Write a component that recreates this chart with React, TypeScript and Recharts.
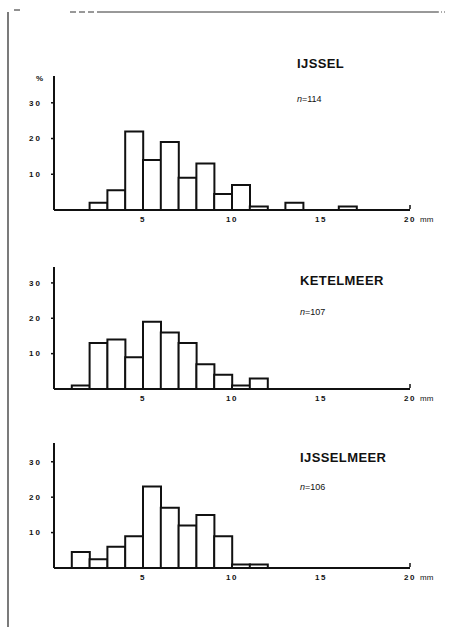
import React from 'react';
import { BarChart, Bar, XAxis, YAxis } from 'recharts';

// percentage of animals per 1 mm length class (0-1, 1-2, ... 19-20 mm)
const binStarts = [0, 1, 2, 3, 4, 5, 6, 7, 8, 9, 10, 11, 12, 13, 14, 15, 16, 17, 18, 19];
const ijsselPct = [0, 0, 2, 5.5, 22, 14, 19, 9, 13, 4.5, 7, 1, 0, 2, 0, 0, 1, 0, 0, 0];
const ketelmeerPct = [0, 1, 13, 14, 9, 19, 16, 13, 7, 4, 1, 3, 0, 0, 0, 0, 0, 0, 0, 0];
const ijsselmeerPct = [0, 4.5, 2.5, 6, 9, 23, 17, 12, 15, 9, 1, 1, 0, 0, 0, 0, 0, 0, 0, 0];

const lakeNames = ['IJSSEL', 'KETELMEER', 'IJSSELMEER'];
const sampleSizes = [114, 107, 106];
const xTicks = [5, 10, 15, 20];
const yTicks = [10, 20, 30];

const FONT = '"Liberation Sans", Arial, sans-serif';

const toRows = (values: number[]) =>
  binStarts.map((start, i) => ({ bin: String(start), start, pct: values[i] }));

function MmTick(props: any) {
  const { x, y, payload } = props;
  return (
    <g fontFamily={FONT} fontSize={8} fontWeight="bold" fill="#111">
      {payload.value === 20 && (
        <line x1={x} y1={y - 1} x2={x} y2={y - 5} stroke="#111" strokeWidth={1.5} />
      )}
      <text x={x} y={y + 12} textAnchor="middle" letterSpacing={1.5}>
        {payload.value}
      </text>
      {payload.value === 20 && (
        <text x={x + 10} y={y + 12} textAnchor="start" fontWeight="normal">
          mm
        </text>
      )}
    </g>
  );
}

type PanelProps = {
  values: number[];
  top: number;
  height: number;
  plotTop: number;
  yMax: number;
};

function Histogram({ values, top, height, plotTop, yMax }: PanelProps) {
  return (
    <div style={{ position: 'absolute', left: 0, top }}>
      <BarChart
        width={462}
        height={height}
        data={toRows(values)}
        margin={{ top: plotTop, right: 52, bottom: 0, left: 24 }}
        barCategoryGap={0}
        barGap={0}
      >
        <XAxis
          xAxisId="mm"
          dataKey="start"
          type="number"
          domain={[0, 20]}
          ticks={xTicks}
          allowDataOverflow
          height={20}
          axisLine={{ stroke: '#111', strokeWidth: 2 }}
          tickLine={false}
          tickSize={0}
          tickMargin={0}
          tick={<MmTick />}
        />
        <XAxis xAxisId="bins" dataKey="bin" type="category" hide height={0} padding={{ left: 0, right: 0 }} />
        <YAxis
          type="number"
          domain={[0, yMax]}
          ticks={yTicks}
          allowDataOverflow
          width={30}
          axisLine={{ stroke: '#111', strokeWidth: 2 }}
          tickLine={{ stroke: '#111', strokeWidth: 1.5 }}
          tickSize={3}
          tickMargin={9}
          tick={{ fontFamily: FONT, fontSize: 8, fontWeight: 'bold', fill: '#111', letterSpacing: 2 }}
        />
        <Bar
          xAxisId="bins"
          dataKey="pct"
          fill="#fff"
          stroke="#111"
          strokeWidth={2}
          isAnimationActive={false}
        />
      </BarChart>
    </div>
  );
}

function Label({ name, n, x, y, ny }: { name: string; n: number; x: number; y: number; ny: number }) {
  return (
    <>
      <div
        style={{
          position: 'absolute', left: x, top: y, fontFamily: FONT, fontWeight: 'bold',
          fontSize: 13, letterSpacing: 0.4, color: '#111', lineHeight: 1
        }}
      >
        {name}
      </div>
      <div
        style={{
          position: 'absolute', left: x, top: ny, fontFamily: FONT, fontSize: 9,
          color: '#111', lineHeight: 1
        }}
      >
        <i>n</i>={n}
      </div>
    </>
  );
}

export default function App() {
  return (
    <div style={{ position: 'absolute', left: 0, top: 0, width: 462, height: 627, background: '#fff', overflow: 'hidden' }}>
      {/* scanned page frame */}
      <svg width={462} height={627} style={{ position: 'absolute', left: 0, top: 0 }}>
        <line x1={8} y1={12} x2={8} y2={627} stroke="#222" strokeWidth={1.2} />
        <line x1={14} y1={10} x2={20} y2={10} stroke="#222" strokeWidth={1} />
        <line x1={70} y1={12} x2={100} y2={12} stroke="#333" strokeWidth={1} strokeDasharray="6 3" />
        <line x1={100} y1={12} x2={438} y2={12} stroke="#333" strokeWidth={1} />
        <line x1={438} y1={12} x2={446} y2={12} stroke="#555" strokeWidth={1} strokeDasharray="1 2" />
      </svg>

      <Histogram values={ijsselPct} top={0} height={230} plotTop={76} yMax={37.5} />
      <Histogram values={ketelmeerPct} top={200} height={209} plotTop={67} yMax={34.5} />
      <Histogram values={ijsselmeerPct} top={420} height={168} plotTop={23} yMax={35.3} />

      <div style={{ position: 'absolute', left: 36, top: 74, fontFamily: FONT, fontSize: 8, fontWeight: 'bold', color: '#111' }}>%</div>

      <Label name={lakeNames[0]} n={sampleSizes[0]} x={297} y={57} ny={95} />
      <Label name={lakeNames[1]} n={sampleSizes[1]} x={300} y={274} ny={308} />
      <Label name={lakeNames[2]} n={sampleSizes[2]} x={300} y={451} ny={483} />
    </div>
  );
}
